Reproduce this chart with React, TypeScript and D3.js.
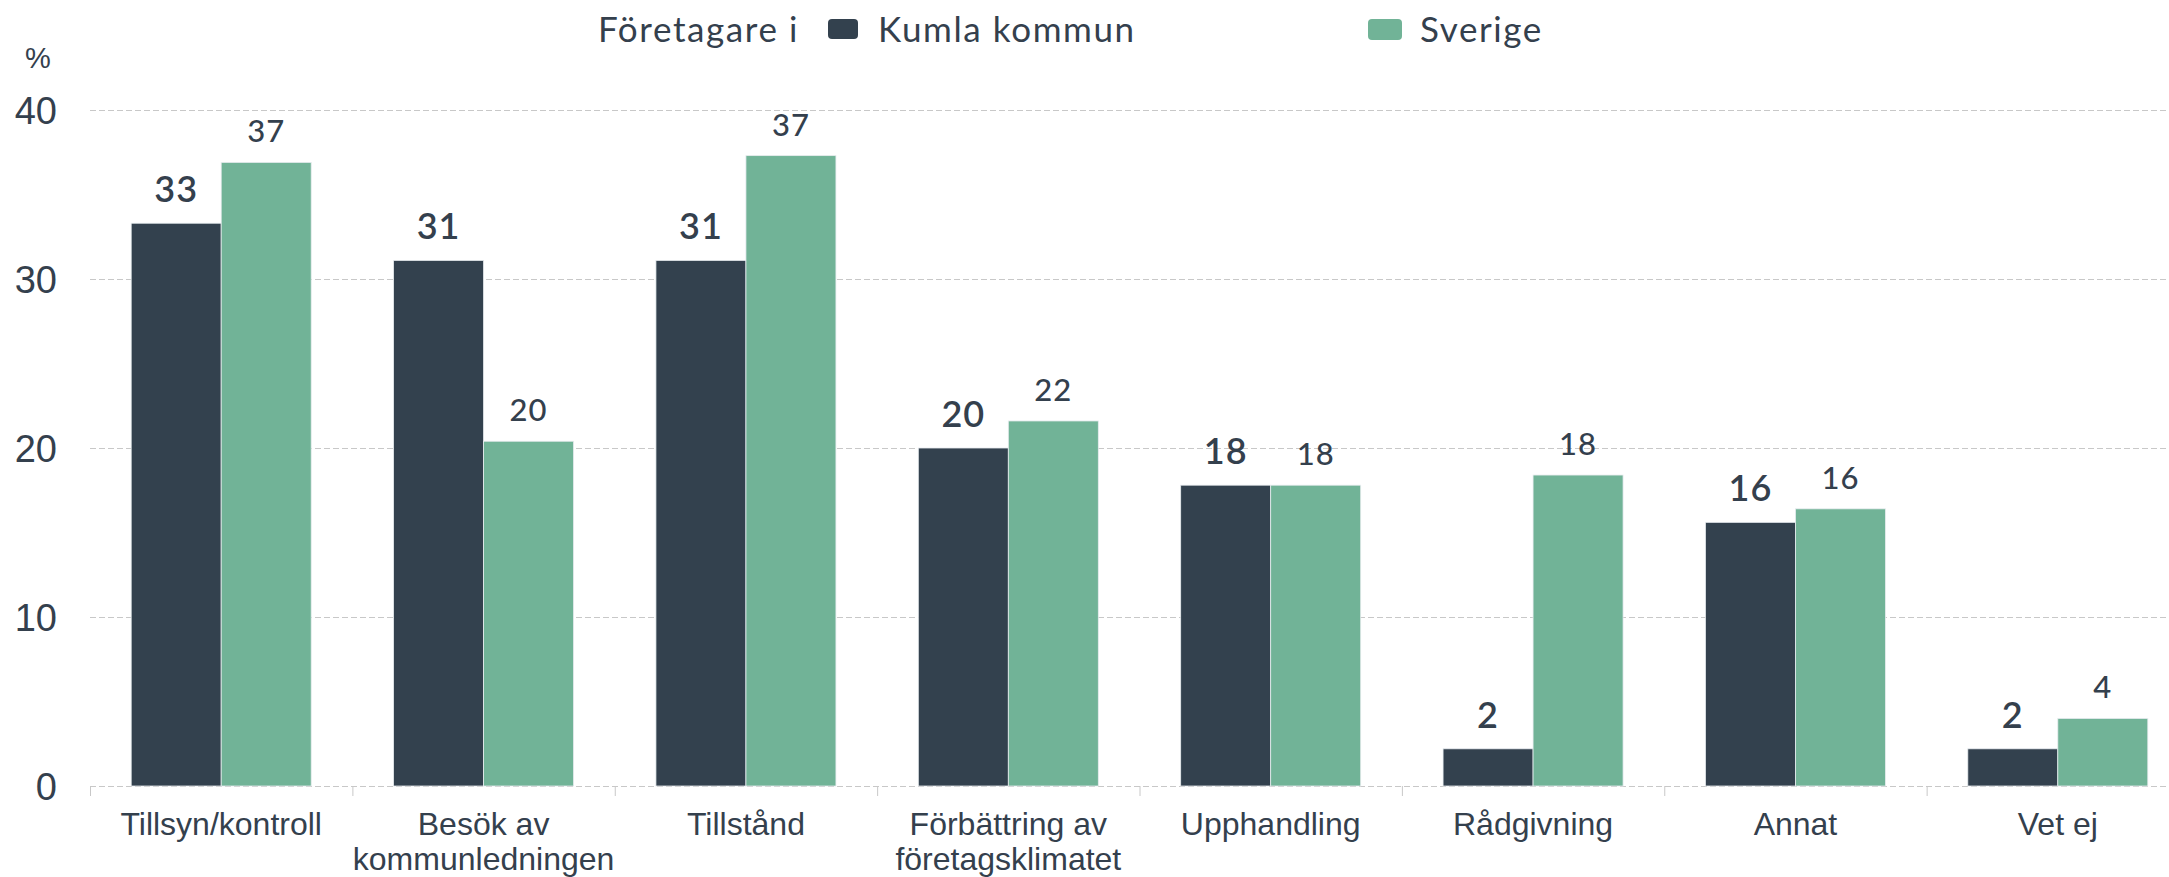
import React from "react";
import * as d3 from "d3";

const categories: string[][] = [
  ["Tillsyn/kontroll"],
  ["Besök av", "kommunledningen"],
  ["Tillstånd"],
  ["Förbättring av", "företagsklimatet"],
  ["Upphandling"],
  ["Rådgivning"],
  ["Annat"],
  ["Vet ej"],
];
const kumla = [33.3, 31.1, 31.1, 20.0, 17.8, 2.2, 15.6, 2.2];
const sverige = [36.9, 20.4, 37.3, 21.6, 17.8, 18.4, 16.4, 4.0];
const yTicks = [0, 10, 20, 30, 40];
const seriesNames = ["Kumla kommun", "Sverige"];
const legendTitle = "Företagare i";

const W = 2169;
const H = 877;
const DARK = "#33414e";
const GREEN = "#71b397";
const TEXT = "#34404d";
const GRID = "#c8c8c8";

export default function App() {
  const x = d3
    .scaleBand<number>()
    .domain(d3.range(categories.length))
    .range([90, 2189])
    .paddingInner(0)
    .paddingOuter(0);
  const y = d3.scaleLinear().domain([0, 40]).range([786, 110]);
  const bw = 90;
  const off = (x.bandwidth() - 2 * bw) / 2;
  const series = [
    { name: seriesNames[0], values: kumla, color: DARK, dx: 0 },
    { name: seriesNames[1], values: sverige, color: GREEN, dx: bw },
  ];
  const ticks = d3.range(categories.length + 1).map((i) => 90 + i * x.bandwidth());

  return (
    <svg
      width={W}
      height={H}
      style={{ position: "absolute", left: 0, top: 0, background: "#fff" }}
    >
      {yTicks.map((t) => (
        <line
          key={t}
          x1={90}
          x2={W}
          y1={y(t) + 0.5}
          y2={y(t) + 0.5}
          stroke={GRID}
          strokeWidth={1.2}
          strokeDasharray="6,3"
        />
      ))}
      {ticks.map((tx, i) => (
        <line
          key={i}
          x1={tx + 0.5}
          x2={tx + 0.5}
          y1={786}
          y2={796}
          stroke={GRID}
          strokeWidth={1}
        />
      ))}
      {yTicks.map((t) => (
        <text
          key={t}
          x={57}
          y={y(t)}
          dy="0.36em"
          textAnchor="end"
          fontFamily="'Liberation Sans', Arial, sans-serif"
          fontSize={38}
          fill={TEXT}
        >
          {t}
        </text>
      ))}
      <text
        x={38}
        y={68}
        textAnchor="middle"
        fontFamily="'Liberation Sans', Arial, sans-serif"
        fontSize={29}
        fill={TEXT}
      >
        %
      </text>
      {series.map((s) =>
        s.values.map((v, i) => (
          <rect
            key={s.name + i}
            x={(x(i) as number) + off + s.dx}
            y={y(v)}
            width={bw}
            height={y(0) - y(v)}
            fill={s.color}
            stroke="#e8ecef"
            strokeWidth={0.8}
          />
        ))
      )}
      {series.map((s, si) =>
        s.values.map((v, i) => (
          <text
            key={"l" + s.name + i}
            x={(x(i) as number) + off + s.dx + bw / 2}
            y={y(v) - (si === 0 ? 21 : 20)}
            textAnchor="middle"
            fontFamily="Lato, 'Open Sans', sans-serif"
            fontSize={si === 0 ? 36 : 31}
            fontWeight={si === 0 ? 600 : 500}
            letterSpacing={1}
            fill={TEXT}
          >
            {Math.round(v)}
          </text>
        ))
      )}
      {categories.map((c, i) => (
        <text
          key={"c" + i}
          x={(x(i) as number) + x.bandwidth() / 2}
          y={835}
          textAnchor="middle"
          fontFamily="'Liberation Sans', Arial, sans-serif"
          fontSize={32}
          fill={TEXT}
        >
          {c.map((line, j) => (
            <tspan key={j} x={(x(i) as number) + x.bandwidth() / 2} dy={j === 0 ? 0 : 35}>
              {line}
            </tspan>
          ))}
        </text>
      ))}
      <g fontFamily="Lato, 'Open Sans', sans-serif" fontSize={35} letterSpacing={1.6} fill={TEXT}>
        <text x={598} y={42}>{legendTitle}</text>
        <rect x={828} y={19} width={30} height={20} rx={4} fill={DARK} />
        <text x={878} y={42}>{seriesNames[0]}</text>
        <rect x={1368} y={19} width={34} height={21} rx={4} fill={GREEN} />
        <text x={1420} y={42}>{seriesNames[1]}</text>
      </g>
    </svg>
  );
}
